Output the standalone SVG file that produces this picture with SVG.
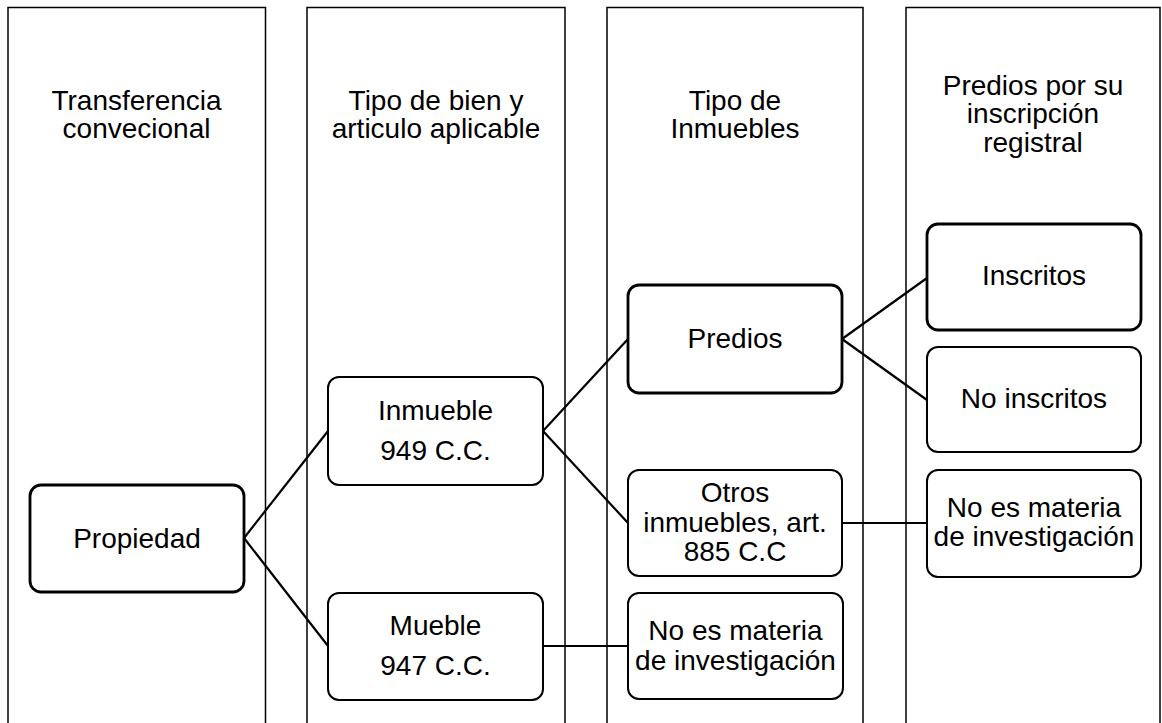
<svg xmlns="http://www.w3.org/2000/svg" width="1162" height="723" viewBox="0 0 1162 723">
  <style>
    .lane { fill: none; stroke: #000; stroke-width: 1.5; }
    .node { fill: #fff; stroke: #000; stroke-width: 2; }
    .node.bold { stroke-width: 2.8; }
    .link { fill: none; stroke: #000; stroke-width: 2.2; }
    text { font-family: "Liberation Sans", Arial, sans-serif; font-size: 28px; fill: #000; text-anchor: middle; }
  </style>
  <rect width="1162" height="723" fill="#fff"/>

  <!-- swim lanes -->
  <g id="lanes">
    <g id="lane-transferencia">
      <path class="lane" d="M8,730 V7.5 H265.5 V730"/>
      <text x="136.5" y="110">Transferencia</text>
      <text x="136.5" y="138">convecional</text>
    </g>
    <g id="lane-tipo-bien">
      <path class="lane" d="M307,730 V7.5 H565 V730"/>
      <text x="436" y="110">Tipo de bien y</text>
      <text x="436" y="138">articulo aplicable</text>
    </g>
    <g id="lane-tipo-inmuebles">
      <path class="lane" d="M607,730 V7.5 H863 V730"/>
      <text x="735" y="110">Tipo de</text>
      <text x="735" y="138">Inmuebles</text>
    </g>
    <g id="lane-predios">
      <path class="lane" d="M906,730 V7.5 H1160 V730"/>
      <text x="1033" y="95">Predios por su</text>
      <text x="1033" y="123">inscripción</text>
      <text x="1033" y="152">registral</text>
    </g>
  </g>

  <!-- connectors -->
  <g id="connectors">
    <path class="link" d="M244,538 L328,431"/>
    <path class="link" d="M244,538 L328,646"/>
    <path class="link" d="M543,431 L628,339"/>
    <path class="link" d="M543,431 L628,523"/>
    <path class="link" d="M543,646 H628"/>
    <path class="link" d="M842,339 L927,278"/>
    <path class="link" d="M842,339 L927,400"/>
    <path class="link" d="M842,523 H927"/>
  </g>

  <!-- nodes -->
  <g id="node-propiedad">
    <rect class="node bold" x="30" y="485" width="214" height="107" rx="11"/>
    <text x="137" y="548">Propiedad</text>
  </g>
  <g id="node-inmueble">
    <rect class="node" x="328" y="377" width="215" height="108" rx="11"/>
    <text x="435.5" y="420">Inmueble</text>
    <text x="435.5" y="460">949 C.C.</text>
  </g>
  <g id="node-mueble">
    <rect class="node" x="328" y="593" width="215" height="107" rx="11"/>
    <text x="435.5" y="635">Mueble</text>
    <text x="435.5" y="675">947 C.C.</text>
  </g>
  <g id="node-predios">
    <rect class="node bold" x="628" y="285" width="214" height="108" rx="11"/>
    <text x="735" y="348">Predios</text>
  </g>
  <g id="node-otros">
    <rect class="node" x="628" y="470" width="214" height="106" rx="11"/>
    <text x="735" y="502">Otros</text>
    <text x="735" y="532">inmuebles, art.</text>
    <text x="735" y="561">885 C.C</text>
  </g>
  <g id="node-no-materia-mueble">
    <rect class="node" x="628" y="593" width="215" height="106" rx="11"/>
    <text x="735.5" y="640">No es materia</text>
    <text x="735.5" y="670">de investigación</text>
  </g>
  <g id="node-inscritos">
    <rect class="node bold" x="927" y="224" width="214" height="106" rx="11"/>
    <text x="1034" y="285">Inscritos</text>
  </g>
  <g id="node-no-inscritos">
    <rect class="node" x="927" y="347" width="214" height="105" rx="11"/>
    <text x="1034" y="408">No inscritos</text>
  </g>
  <g id="node-no-materia-otros">
    <rect class="node" x="927" y="470" width="214" height="107" rx="11"/>
    <text x="1034" y="517">No es materia</text>
    <text x="1034" y="546">de investigación</text>
  </g>
</svg>
